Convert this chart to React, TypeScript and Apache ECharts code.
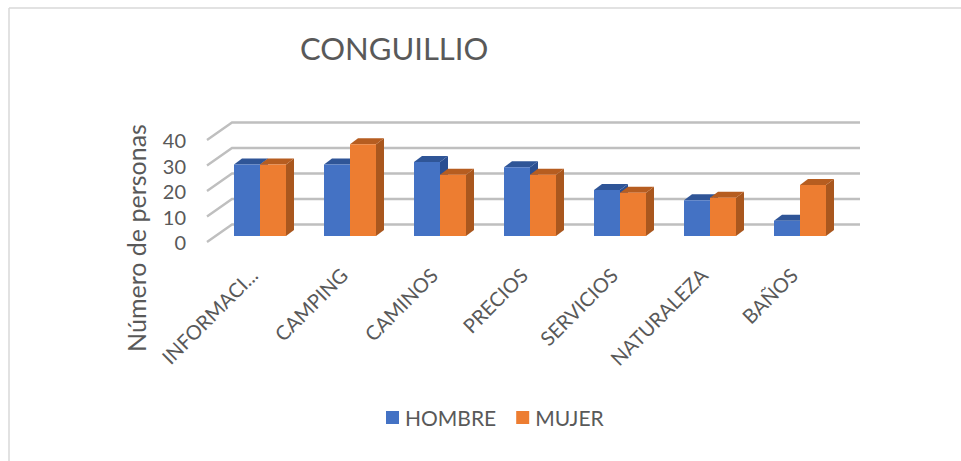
import React, { useEffect, useRef } from "react";
import * as echarts from "echarts";

const categories = ["INFORMACI...", "CAMPING", "CAMINOS", "PRECIOS", "SERVICIOS", "NATURALEZA", "BAÑOS"];
const hombre = [28, 28, 29, 27, 18, 14, 6];
const mujer = [28, 36, 24, 24, 17, 15, 20];
const ticks = [0, 10, 20, 30, 40];
const FONT = "Lato, 'Open Sans', sans-serif";
const TEXT = "#595959";

const bar3d = (side: number, front: string, dark: string, top: string) => (_: any, api: any) => {
  const cat = api.value(0);
  const val = api.value(1);
  const band = api.size([1, 0])[0];
  const w = (band * 26) / 90;
  const [cx, yt] = api.coord([cat, val]);
  const [, yb] = api.coord([cat, 0]);
  const x0 = side < 0 ? cx - w : cx;
  const x1 = x0 + w;
  const dx = 8;
  const dy = 6;
  return {
    type: "group",
    children: [
      { type: "polygon", shape: { points: [[x1, yt], [x1 + dx, yt - dy], [x1 + dx, yb - dy], [x1, yb]] }, style: { fill: dark } },
      { type: "polygon", shape: { points: [[x0, yt], [x0 + dx, yt - dy], [x1 + dx, yt - dy], [x1, yt]] }, style: { fill: top } },
      { type: "rect", shape: { x: x0, y: yt, width: w, height: yb - yt }, style: { fill: front } },
    ],
  };
};

const wall = (_: any, api: any) => {
  const v = api.value(1);
  const [, y] = api.coord([0, v]);
  const last = api.coord([categories.length - 1, v]);
  const band = api.size([1, 0])[0];
  const xl = last[0] - band * (categories.length - 1) - band / 2;
  const xr = last[0] + band / 2;
  return {
    type: "polyline",
    shape: { points: [[xl - 8, y + 6], [xl + 17, y - 11.5], [xr + 15, y - 11.5]] },
    style: { fill: "none", stroke: "#BFBFBF", lineWidth: 2.4 },
  };
};

export default function App() {
  const ref = useRef<HTMLDivElement>(null);
  useEffect(() => {
    document.body.style.margin = "0";
    const chart = echarts.init(ref.current!, undefined, { renderer: "svg" });
    chart.setOption({
      animation: false,
      backgroundColor: "#fff",
      title: {
        text: "CONGUILLIO",
        left: 295,
        top: 27,
        textStyle: { fontFamily: FONT, fontSize: 31, fontWeight: "normal", color: TEXT },
      },
      legend: {
        left: 381,
        top: 402,
        itemWidth: 13,
        itemHeight: 13,
        itemGap: 20,
        icon: "rect",
        selectedMode: false,
        textStyle: { fontFamily: FONT, fontSize: 21, color: TEXT, padding: [0, 0, 0, 1] },
        data: [
          { name: "HOMBRE", itemStyle: { color: "#4472C4" } },
          { name: "MUJER", itemStyle: { color: "#ED7D31" } },
        ],
      },
      grid: { left: 215, top: 134, width: 630, height: 102 },
      xAxis: {
        type: "category",
        data: categories,
        axisLine: { show: false },
        axisTick: { show: false },
        axisLabel: {
          rotate: 45,
          interval: 0,
          margin: 29,
          padding: [0, 9, 0, 0],
          fontFamily: FONT,
          fontSize: 20,
          color: TEXT,
        },
      },
      yAxis: {
        type: "value",
        min: 0,
        max: 40,
        interval: 10,
        axisLine: { show: false },
        axisTick: { show: false },
        splitLine: { show: false },
        axisLabel: { margin: 29, fontFamily: FONT, fontSize: 20, color: TEXT, verticalAlign: "top", lineHeight: 12 },
      },
      series: [
        {
          type: "custom",
          name: "wall",
          silent: true,
          z: 1,
          renderItem: wall,
          data: ticks.map((t) => [0, t]),
          encode: { x: 0, y: 1 },
        },
        {
          type: "custom",
          name: "HOMBRE",
          z: 2,
          renderItem: bar3d(-1, "#4472C4", "#2B4F91", "#2F5597"),
          data: hombre.map((v, i) => [i, v]),
          encode: { x: 0, y: 1 },
          itemStyle: { color: "#4472C4" },
        },
        {
          type: "custom",
          name: "MUJER",
          z: 3,
          renderItem: bar3d(1, "#ED7D31", "#A9571E", "#B65D20"),
          data: mujer.map((v, i) => [i, v]),
          encode: { x: 0, y: 1 },
          itemStyle: { color: "#ED7D31" },
        },
      ],
      graphic: [
        { type: "line", shape: { x1: 9, y1: 8, x2: 961, y2: 8 }, style: { stroke: "#D9D9D9", lineWidth: 1.5 } },
        { type: "line", shape: { x1: 9, y1: 8, x2: 9, y2: 461 }, style: { stroke: "#D9D9D9", lineWidth: 1.5 } },
        {
          type: "text",
          x: 136,
          y: 238,
          rotation: Math.PI / 2,
          style: {
            text: "Número de personas",
            fontFamily: FONT,
            fontSize: 25,
            fill: TEXT,
            textAlign: "center",
            textVerticalAlign: "middle",
          },
        },
      ],
    });
    return () => chart.dispose();
  }, []);
  return <div ref={ref} style={{ width: 961, height: 461 }} />;
}
